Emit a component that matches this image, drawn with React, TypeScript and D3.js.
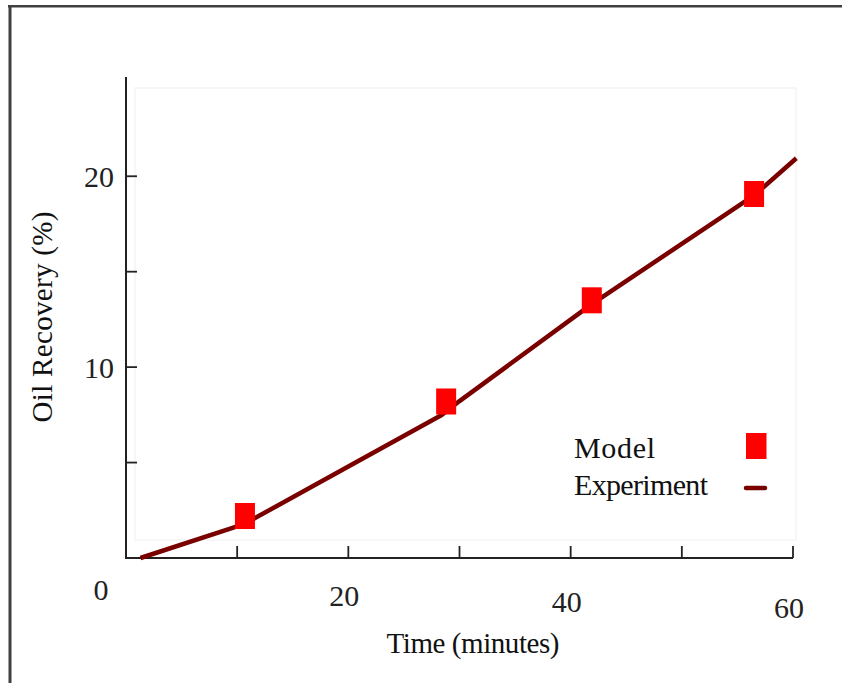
import React from "react";
import * as d3 from "d3";

// Experimental oil recovery curve (time in minutes, recovery in %)
const experimentTime = [1.3, 10, 11.6, 20, 28.4, 30, 41.9, 56.5, 60.3];
const experimentRecovery = [0.0, 1.66, 2.09, 4.79, 7.49, 8.22, 13.3, 19.0, 20.94];

// Model predictions
const modelTime = [10.7, 28.8, 41.9, 56.5];
const modelRecovery = [2.2, 8.2, 13.5, 19.07];

// Axis ticks
const xTicks = [10, 20, 30, 40, 50, 60];
const xTickLabels = [0, 20, 40, 60];
const yTicks = [5, 10, 15, 20];
const yTickLabels = [10, 20];

const legendLabels = ["Model", "Experiment"];

const W = 842;
const H = 683;
const FONT = "'Liberation Serif', 'Times New Roman', serif";
const LINE_COLOR = "#7a0000";
const MARKER_COLOR = "#ff0000";

export default function App() {
  const x = d3.scaleLinear().domain([0, 60]).range([126, 793]);
  const y = d3.scaleLinear().domain([0, 25.2]).range([558, 77]);

  const expData = experimentTime.map((t, i) => [t, experimentRecovery[i]] as [number, number]);
  const line = d3
    .line<[number, number]>()
    .x((d) => x(d[0]))
    .y((d) => y(d[1]));

  const mw = 20;
  const mh = 26;

  return (
    <svg
      width={W}
      height={H}
      viewBox={`0 0 ${W} ${H}`}
      style={{ position: "absolute", left: 0, top: 0, background: "#fff" }}
    >
      <rect x={0} y={0} width={W} height={H} fill="#fff" />
      {/* outer frame: top and left edges */}
      <line x1={8} x2={W} y1={6.2} y2={6.2} stroke="#404040" strokeWidth={2.6} />
      <line x1={10} x2={10} y1={5} y2={H} stroke="#404040" strokeWidth={3} />

      {/* faint plot box */}
      <rect x={135} y={88} width={661} height={452} fill="none" stroke="#f5f5f5" strokeWidth={1.5} />

      {/* axes */}
      <line x1={x(0)} x2={x(0)} y1={y(25.2)} y2={y(0) + 1} stroke="#222" strokeWidth={2} />
      <line x1={x(0)} x2={x(60)} y1={y(0)} y2={y(0)} stroke="#222" strokeWidth={2} />
      {xTicks.map((v) => (
        <line key={"xt" + v} x1={x(v)} x2={x(v)} y1={y(0)} y2={y(0) - 12} stroke="#222" strokeWidth={1.8} />
      ))}
      {yTicks.map((v) => (
        <line key={"yt" + v} x1={x(0)} x2={x(0) + 11} y1={y(v)} y2={y(v)} stroke="#222" strokeWidth={1.8} />
      ))}

      {/* tick labels */}
      <g fontFamily={FONT} fontSize={30} fill="#222">
        {xTickLabels.map((v) => (
          <text
            key={"xl" + v}
            x={v === 0 ? x(0) - 25 : x(v) - 4}
            y={y(0) + 42 + v * 0.3}
            textAnchor="middle"
          >
            {v}
          </text>
        ))}
        {yTickLabels.map((v) => (
          <text key={"yl" + v} x={114} y={y(v) + 11} textAnchor="end">
            {v}
          </text>
        ))}
      </g>

      {/* axis titles */}
      <text x={473} y={653} fontFamily={FONT} fontSize={29} textAnchor="middle" fill="#111" textLength={173}>
        Time (minutes)
      </text>
      <text
        transform="translate(52,317) rotate(-90)"
        fontFamily={FONT}
        fontSize={29}
        textAnchor="middle"
        fill="#111"
        textLength={211}
      >
        Oil Recovery (%)
      </text>

      {/* experiment curve */}
      <path d={line(expData) || ""} fill="none" stroke={LINE_COLOR} strokeWidth={4.5} strokeLinejoin="round" />

      {/* model markers */}
      {modelTime.map((t, i) => (
        <rect
          key={"m" + i}
          x={x(t) - mw / 2}
          y={y(modelRecovery[i]) - mh / 2}
          width={mw}
          height={mh}
          fill={MARKER_COLOR}
        />
      ))}

      {/* legend */}
      <g fontFamily={FONT} fontSize={30} fill="#111">
        <text x={574} y={458} textLength={81}>{legendLabels[0]}</text>
        <text x={574} y={495} textLength={134}>{legendLabels[1]}</text>
      </g>
      <rect x={746} y={433} width={20.5} height={26} fill={MARKER_COLOR} />
      <line x1={746} x2={765} y1={488} y2={488} stroke={LINE_COLOR} strokeWidth={4.5} strokeLinecap="round" />
    </svg>
  );
}
